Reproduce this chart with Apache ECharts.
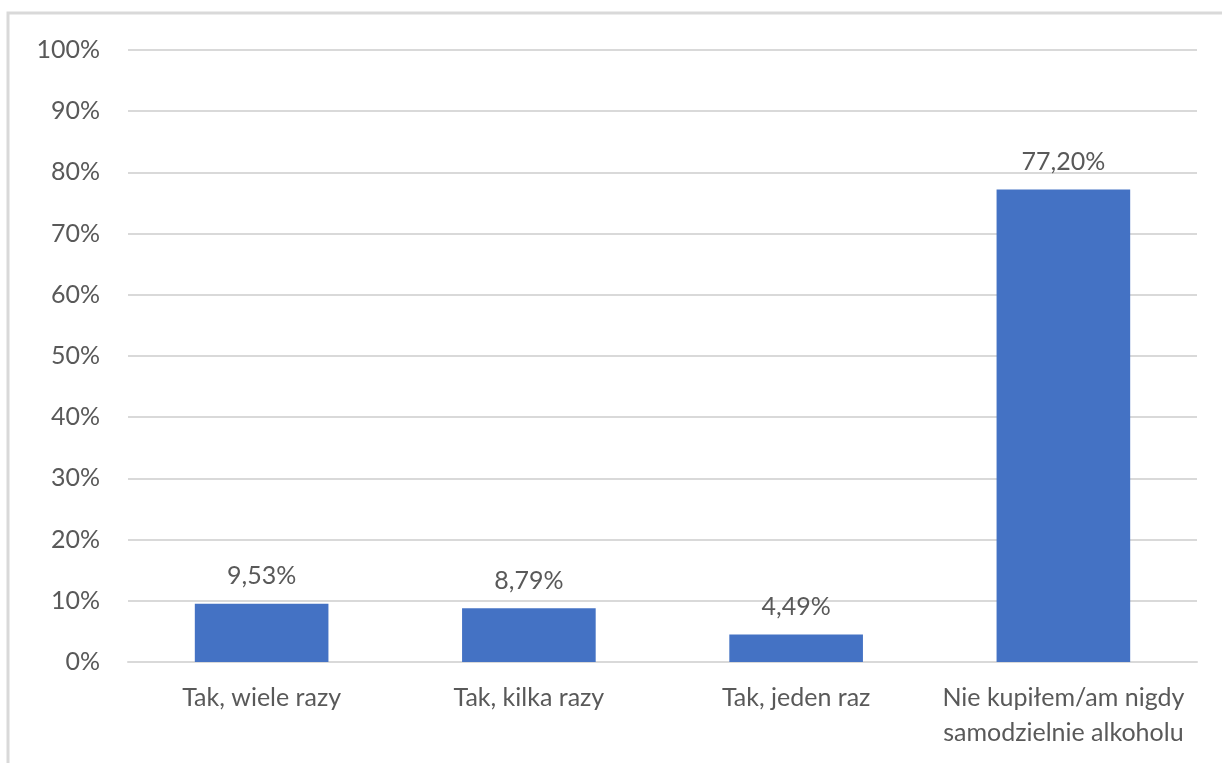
<!DOCTYPE html>
<html>
<head>
<meta charset="utf-8">
<script src="https://cdn.jsdelivr.net/npm/echarts@6/dist/echarts.min.js"></script>
<style>
  html, body { margin: 0; padding: 0; background: #fff; }
  #chart { width: 1222px; height: 763px; }
</style>
</head>
<body>
<div id="chart"></div>
<script>
// categories and values
const categories = [
    'Tak, wiele razy',
    'Tak, kilka razy',
    'Tak, jeden raz',
    'Nie kupiłem/am nigdy\nsamodzielnie alkoholu'
];
const values = [9.53, 8.79, 4.49, 77.20];

const textColor = '#595959';
const fontFamily = 'Lato, "Open Sans", sans-serif';

let chart = echarts.init(document.getElementById('chart'));

const option = {
    animation: false,
    backgroundColor: '#fff',
    // outer frame (only top and left edges visible)
    graphic: [{
        type: 'rect',
        shape: { x: 8, y: 13, width: 1400, height: 900 },
        style: { fill: 'none', stroke: '#d9d9d9', lineWidth: 3 },
        silent: true
    }],
    grid: { left: 128, right: 25, top: 50, bottom: 101 },
    xAxis: {
        type: 'category',
        data: categories,
        axisLine: { show: true, lineStyle: { color: '#d9d9d9', width: 2 } },
        axisTick: { show: false },
        axisLabel: {
            color: textColor,
            fontFamily: fontFamily,
            fontSize: 25,
            lineHeight: 35,
            margin: 18,
            interval: 0
        }
    },
    yAxis: {
        type: 'value',
        min: 0,
        max: 100,
        interval: 10,
        axisLine: { show: false },
        axisTick: { show: false },
        splitLine: { lineStyle: { color: '#d9d9d9', width: 2 } },
        axisLabel: {
            color: textColor,
            fontFamily: fontFamily,
            fontSize: 25,
            margin: 28,
            formatter: function (v) { return v + '%'; }
        }
    },
    series: [{
        type: 'bar',
        data: values,
        barWidth: '50%',
        itemStyle: { color: '#4472c4' },
        label: {
            show: true,
            position: 'top',
            distance: 15,
            color: textColor,
            fontFamily: fontFamily,
            fontSize: 25,
            formatter: function (p) { return p.value.toFixed(2).replace('.', ',') + '%'; }
        }
    }]
};

chart.setOption(option);
</script>
</body>
</html>
